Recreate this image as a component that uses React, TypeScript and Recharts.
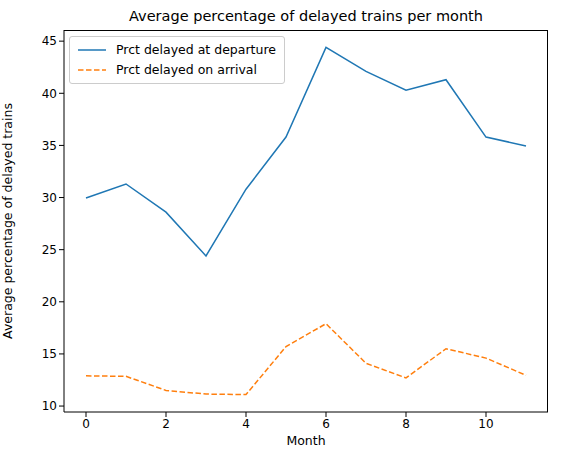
import React from "react";
import { LineChart, Line, XAxis, YAxis } from "recharts";

const months = [0, 1, 2, 3, 4, 5, 6, 7, 8, 9, 10, 11];
const departure = [29.95, 31.3, 28.6, 24.4, 30.8, 35.8, 44.4, 42.1, 40.3, 41.3, 35.8, 34.95];
const arrival = [12.9, 12.85, 11.5, 11.15, 11.1, 15.7, 17.9, 14.1, 12.7, 15.5, 14.6, 12.95];
const xTicks = [0, 2, 4, 6, 8, 10];
const yTicks = [10, 15, 20, 25, 30, 35, 40, 45];

const data = months.map((m, i) => ({ m, dep: departure[i], arr: arrival[i] }));
const font = "DejaVu Sans, sans-serif";
const tickStyle = { fontSize: 12, fill: "#000", fontFamily: font };

const LegendBox = () => (
  <div style={{ position: "absolute", left: 69, top: 36, border: "1px solid #ccc", borderRadius: 3, background: "#fff", padding: "3px 8px", fontFamily: font, fontSize: 12.5, lineHeight: "20px" }}>
    <div style={{ display: "flex", alignItems: "center" }}>
      <svg width={30} height={10}><line x1={0} y1={5} x2={28} y2={5} stroke="#1f77b4" strokeWidth={1.5} /></svg>
      <span style={{ marginLeft: 8 }}>Prct delayed at departure</span>
    </div>
    <div style={{ display: "flex", alignItems: "center" }}>
      <svg width={30} height={10}><line x1={0} y1={5} x2={28} y2={5} stroke="#ff7f0e" strokeWidth={1.5} strokeDasharray="5.5 2.5" /></svg>
      <span style={{ marginLeft: 8 }}>Prct delayed on arrival</span>
    </div>
  </div>
);

export default function App() {
  return (
    <div style={{ position: "absolute", left: 0, top: 0, width: 562, height: 455 }}>
      <div style={{ position: "absolute", top: 8, left: 64, width: 484, textAlign: "center", fontFamily: font, fontSize: 14.5 }}>
        Average percentage of delayed trains per month
      </div>
      <LineChart width={562} height={455} data={data} margin={{ top: 30, right: 14, bottom: 0, left: 0 }}>
        <XAxis dataKey="m" type="number" domain={[-0.55, 11.55]} ticks={xTicks} tick={tickStyle} tickSize={5} stroke="#000" height={43}
          label={{ value: "Month", position: "insideBottom", offset: 10, style: { fontSize: 12.5, fill: "#000", fontFamily: font } }} />
        <YAxis type="number" domain={[9.43, 46.07]} ticks={yTicks} tick={tickStyle} tickSize={5} stroke="#000" width={64}
          label={{ value: "Average percentage of delayed trains", angle: -90, position: "insideLeft", offset: 8, style: { textAnchor: "middle", fontSize: 12.5, fill: "#000", fontFamily: font } }} />
        <Line dataKey="dep" stroke="#1f77b4" strokeWidth={1.5} dot={false} isAnimationActive={false} />
        <Line dataKey="arr" stroke="#ff7f0e" strokeWidth={1.5} strokeDasharray="5.5 2.5" dot={false} isAnimationActive={false} />
      </LineChart>
      <div style={{ position: "absolute", left: 64, top: 30, width: 484, height: 382, borderTop: "1px solid #000", borderRight: "1px solid #000", boxSizing: "border-box", pointerEvents: "none" }} />
      <LegendBox />
    </div>
  );
}
